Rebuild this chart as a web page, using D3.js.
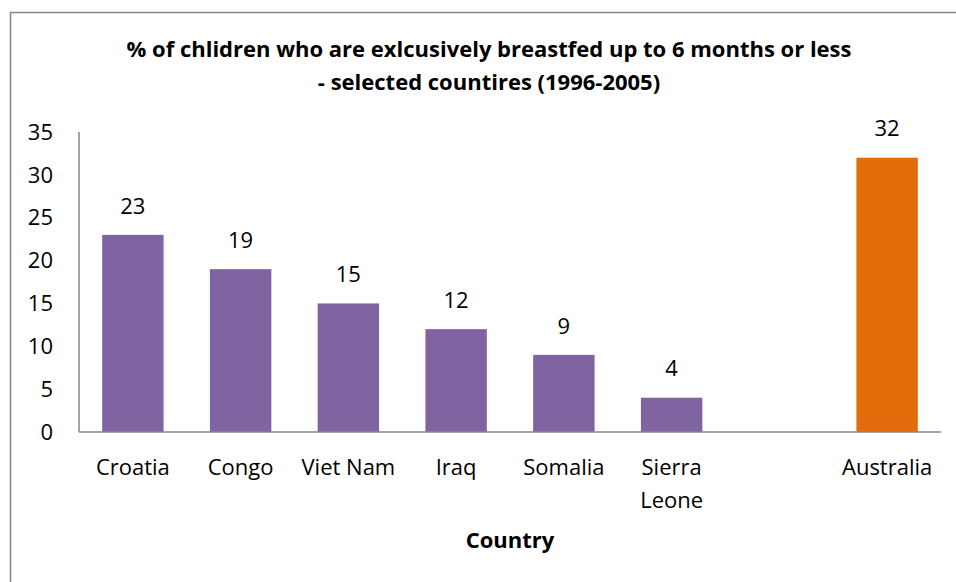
<!DOCTYPE html>
<html>
<head>
<meta charset="utf-8">
<script src="https://cdn.jsdelivr.net/npm/d3@7"></script>
<style>
  body { margin: 0; background: #fff; }
  text { font-family: "Open Sans", Lato, sans-serif; fill: #000; }
</style>
</head>
<body>
<svg id="chart" width="956" height="582"></svg>
<script>
// data
var countries = ["Croatia", "Congo", "Viet Nam", "Iraq", "Somalia", "Sierra Leone", "", "Australia"];
var percents = [23, 19, 15, 12, 9, 4, null, 32];
var barColors = ["#8064A2", "#8064A2", "#8064A2", "#8064A2", "#8064A2", "#8064A2", "#8064A2", "#E46C0A"];
var yTicks = [0, 5, 10, 15, 20, 25, 30, 35];
var titleLines = ["% of chlidren who are exlcusively breastfed up to 6 months or less",
                  "- selected countires (1996-2005)"];

var svg = d3.select("#chart");

// outer chart frame
svg.append("rect")
    .attr("x", 10.5).attr("y", 12.5)
    .attr("width", 980).attr("height", 600)
    .attr("fill", "none")
    .attr("stroke", "#868686")
    .attr("stroke-width", 1.5);

var plotLeft = 79, plotRight = 941, plotTop = 132, plotBottom = 432;

var x = d3.scaleBand().domain(d3.range(countries.length)).range([plotLeft, plotRight]).paddingInner(0.43).paddingOuter(0.215);
var y = d3.scaleLinear().domain([0, 35]).range([plotBottom, plotTop]);

// title
svg.append("g").selectAll("text")
    .data(titleLines)
    .enter().append("text")
    .attr("x", 489)
    .attr("y", function (d, i) { return 57 + i * 33; })
    .attr("text-anchor", "middle")
    .attr("font-size", "22px")
    .attr("font-weight", "bold")
    .text(function (d) { return d; });

// y axis labels (no ticks)
svg.append("g").selectAll("text")
    .data(yTicks)
    .enter().append("text")
    .attr("x", 53)
    .attr("y", function (d) { return y(d); })
    .attr("dy", "0.35em")
    .attr("text-anchor", "end")
    .attr("font-size", "22px")
    .text(function (d) { return d; });

// bars
var idx = d3.range(countries.length).filter(function (i) { return percents[i] != null; });
svg.append("g").selectAll("rect")
    .data(idx)
    .enter().append("rect")
    .attr("x", function (i) { return x(i); })
    .attr("y", function (i) { return y(percents[i]); })
    .attr("width", x.bandwidth())
    .attr("height", function (i) { return plotBottom - y(percents[i]); })
    .attr("fill", function (i) { return barColors[i]; });

// value labels
svg.append("g").selectAll("text")
    .data(idx)
    .enter().append("text")
    .attr("x", function (i) { return x(i) + x.bandwidth() / 2; })
    .attr("y", function (i) { return y(percents[i]) - 29; })
    .attr("dy", "0.35em")
    .attr("text-anchor", "middle")
    .attr("font-size", "22px")
    .text(function (i) { return percents[i]; });

// axis lines
svg.append("line")
    .attr("x1", plotLeft).attr("x2", plotLeft)
    .attr("y1", plotTop).attr("y2", plotBottom)
    .attr("stroke", "#868686").attr("stroke-width", 1.5);
svg.append("line")
    .attr("x1", plotLeft).attr("x2", plotRight)
    .attr("y1", plotBottom).attr("y2", plotBottom)
    .attr("stroke", "#868686").attr("stroke-width", 1.5);

// category labels, wrapping two-word "Sierra Leone"
var cat = svg.append("g").selectAll("text")
    .data(idx)
    .enter().append("text")
    .attr("text-anchor", "middle")
    .attr("font-size", "22px");
cat.each(function (i) {
    var words = countries[i] == "Sierra Leone" ? countries[i].split(" ") : [countries[i]];
    var t = d3.select(this);
    words.forEach(function (w, k) {
        t.append("tspan")
            .attr("x", x(i) + x.bandwidth() / 2)
            .attr("y", 467 + k * 33)
            .attr("dy", "0.35em")
            .text(w);
    });
});

// x axis title
svg.append("text")
    .attr("x", (plotLeft + plotRight) / 2)
    .attr("y", 548)
    .attr("text-anchor", "middle")
    .attr("font-size", "22px")
    .attr("font-weight", "bold")
    .text("Country");
</script>
</body>
</html>
